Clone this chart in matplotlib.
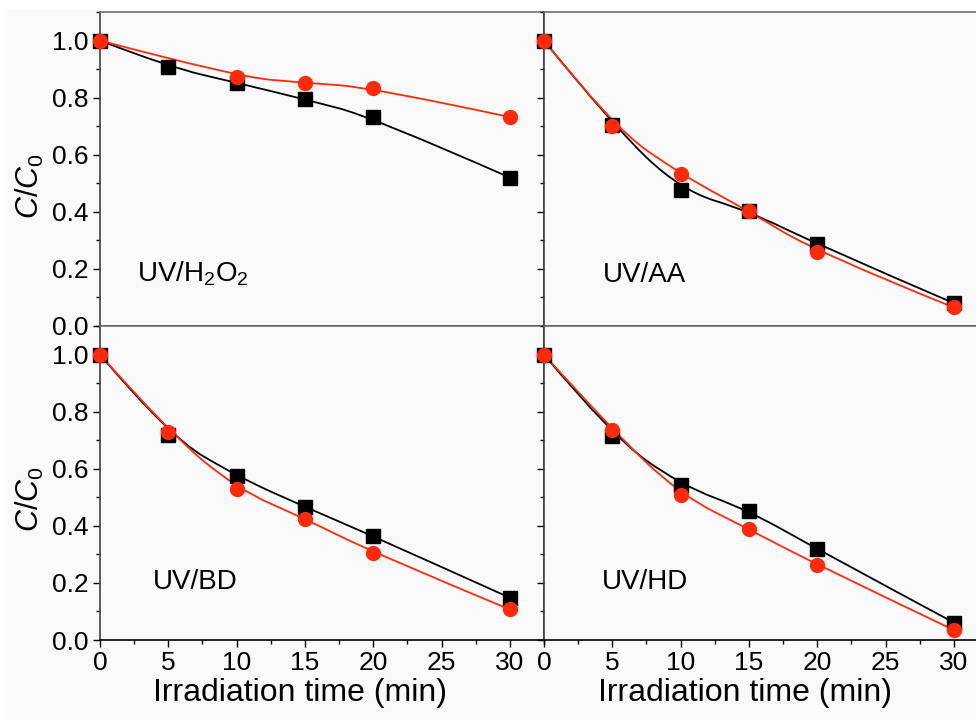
import matplotlib
matplotlib.use("Agg")
import matplotlib.pyplot as plt
from matplotlib.path import Path
from matplotlib.patches import PathPatch, Rectangle
from matplotlib.ticker import MultipleLocator, FormatStrFormatter

plt.rcParams['font.family'] = ['Liberation Sans', 'DejaVu Sans']
plt.rcParams['mathtext.fontset'] = 'custom'
plt.rcParams['mathtext.rm'] = 'Liberation Sans'
plt.rcParams['mathtext.it'] = 'Liberation Sans:italic'

# irradiation times (min)
t_all = [0, 5, 10, 15, 20, 30]
t_h2o2_red = [0, 10, 15, 20, 30]

# C/C0: black squares / red circles
h2o2_black = [1.0, 0.908, 0.852, 0.794, 0.731, 0.520]
h2o2_red = [1.0, 0.873, 0.852, 0.835, 0.732]
aa_black = [1.0, 0.705, 0.476, 0.402, 0.286, 0.080]
aa_red = [1.0, 0.700, 0.532, 0.402, 0.258, 0.065]
bd_black = [1.0, 0.717, 0.574, 0.466, 0.364, 0.148]
bd_red = [1.0, 0.730, 0.530, 0.425, 0.306, 0.107]
hd_black = [1.0, 0.714, 0.543, 0.453, 0.318, 0.061]
hd_red = [1.0, 0.735, 0.508, 0.388, 0.263, 0.035]

panel_names = [r'UV/H$_2$O$_2$', 'UV/AA', 'UV/BD', 'UV/HD']

RED = '#ff2a0a'
BG = '#f9f9f9'


def bspline(ax, x, y, color):
    # quadratic B-spline using the points as control points (like Origin's B-spline connect)
    pts = list(zip(x, y))
    verts = [pts[0]]
    codes = [Path.MOVETO]
    n = len(pts)
    for i in range(1, n - 1):
        if i < n - 2:
            end = ((pts[i][0] + pts[i + 1][0]) / 2, (pts[i][1] + pts[i + 1][1]) / 2)
        else:
            end = pts[i + 1]
        verts += [pts[i], end]
        codes += [Path.CURVE3, Path.CURVE3]
    ax.add_patch(PathPatch(Path(verts, codes), fill=False, edgecolor=color, lw=1.3, zorder=2))


fig = plt.figure(figsize=(9.76, 7.2), dpi=100)
fig.patch.set_facecolor('white')
fig.patches.append(Rectangle((7 / 976, 0), 1, 710 / 720, transform=fig.transFigure,
                             facecolor=BG, edgecolor='none', zorder=-10))

W, H = 976, 720
pos = [(100, 12), (544, 12), (100, 326), (544, 326)]
series = [(t_all, h2o2_black, t_h2o2_red, h2o2_red),
          (t_all, aa_black, t_all, aa_red),
          (t_all, bd_black, t_all, bd_red),
          (t_all, hd_black, t_all, hd_red)]
text_pos = [(2.7, 0.155), (4.3, 0.155), (3.9, 0.18), (4.2, 0.18)]

for k, (px, py) in enumerate(pos):
    ax = fig.add_axes([px / W, 1 - (py + 314) / H, 444 / W, 314 / H])
    ax.set_facecolor(BG)
    xb, yb, xr, yr = series[k]
    bspline(ax, xb, yb, 'black')
    bspline(ax, xr, yr, RED)
    ax.plot(xb, yb, ls='none', marker='s', ms=9.5, color='black', zorder=3, clip_on=False)
    ax.plot(xr, yr, ls='none', marker='o', ms=10, color=RED, zorder=4, clip_on=False)
    ax.set_xlim(0, 32.5)
    ax.set_ylim(0, 1.1)
    ax.set_xticks([0, 5, 10, 15, 20, 25, 30])
    ax.xaxis.set_minor_locator(MultipleLocator(2.5))
    ax.yaxis.set_major_locator(MultipleLocator(0.2))
    ax.yaxis.set_minor_locator(MultipleLocator(0.1))
    ax.yaxis.set_major_formatter(FormatStrFormatter('%.1f'))
    ax.tick_params(which='both', direction='out', top=False, right=False, labelsize=19, width=1)
    ax.tick_params(which='major', length=5, pad=3)
    ax.tick_params(which='minor', length=3)
    if k % 2 == 1:
        ax.tick_params(labelleft=False)
    if k < 2:
        ax.tick_params(labelbottom=False)
    ax.spines['left'].set_color('#404040')
    ax.spines['right'].set_color('#404040')
    ax.spines['top'].set_color('#707070')
    ax.spines['bottom'].set_color('black')
    for s in ax.spines.values():
        s.set_linewidth(1.2)
    ax.text(text_pos[k][0], text_pos[k][1], panel_names[k], fontsize=20)

for cy in (186, 499):
    fig.text(30 / W, 1 - cy / H, r'$C/C_{\mathit{0}}$', rotation=90, fontsize=22,
             ha='center', va='center')
for cx in (300, 745):
    fig.text(cx / W, 1 - 693 / H, 'Irradiation time (min)', fontsize=23, ha='center', va='center')

fig.savefig('out.png', dpi=100, facecolor=fig.get_facecolor())
